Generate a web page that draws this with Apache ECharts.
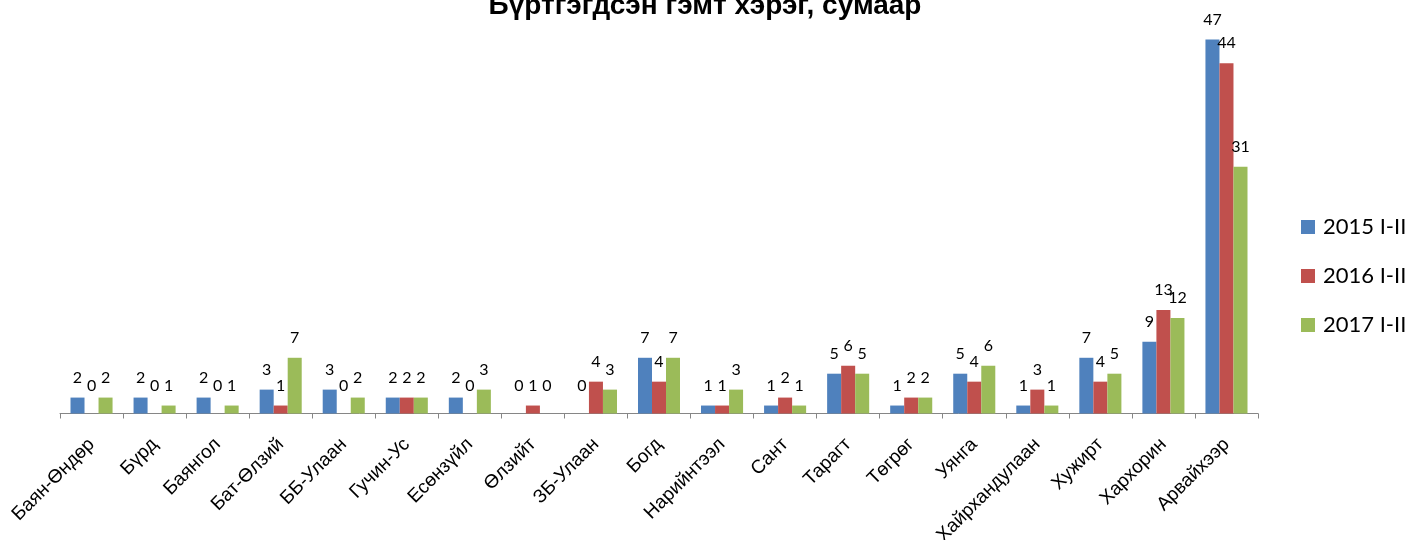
<!DOCTYPE html>
<html>
<head>
<meta charset="utf-8">
<script src="https://cdn.jsdelivr.net/npm/echarts@6/dist/echarts.min.js"></script>
<style>html,body{margin:0;padding:0;background:#fff}#c{width:1412px;height:540px}</style>
</head>
<body>
<div id="c"></div>
<script>
const titleText = 'Бүртгэгдсэн гэмт хэрэг, сумаар';
const categories = ['Баян-Өндөр','Бүрд','Баянгол','Бат-Өлзий','ББ-Улаан','Гучин-Ус','Есөнзүйл','Өлзийт','ЗБ-Улаан','Богд','Нарийнтээл','Сант','Тарагт','Төгрөг','Уянга','Хайрхандулаан','Хужирт','Хархорин','Арвайхээр'];
const seriesNames = ['2015 I-II','2016 I-II','2017 I-II'];
const values2015 = [2,2,2,3,3,2,2,0,0,7,1,1,5,1,5,1,7,9,47];
const values2016 = [0,0,0,1,0,2,0,1,4,4,1,2,6,2,4,3,4,13,44];
const values2017 = [2,1,1,7,2,2,3,0,3,7,3,1,5,2,6,1,5,12,31];
const colors = ['#4F81BD','#C0504D','#9BBB59'];

const chart = echarts.init(document.getElementById('c'), null, {renderer:'canvas'});
const mk = (name, vals, color) => ({
  name, type:'bar', data: vals.map(v => v === 0 ? {value:0, label:{distance:20}} : v),
  itemStyle:{color}, barGap:'0%', barCategoryGap:'33.3%',
  label:{show:true, position:'top', distance:12, color:'#000', fontFamily:'Lato', fontSize:16},
  emphasis:{disabled:true}
});
chart.setOption({
  animation:false,
  graphic:[{type:'text', x:705, y:-8, style:{text:titleText, fontFamily:'Liberation Sans', fontWeight:'bold', fontSize:28, fill:'#000', textAlign:'center'}}],
  legend:{orient:'vertical', left:1301, top:216, padding:0, itemWidth:14, itemHeight:14, itemGap:27,
    icon:'rect', data:seriesNames,
    textStyle:{fontFamily:'Lato', fontSize:22, lineHeight:22, color:'#000', padding:[0,0,0,3]}},
  grid:{left:60, right:154, top:15.5, bottom:126.5, containLabel:false, outerBoundsMode:'none'},
  xAxis:{type:'category', data:categories,
    axisLine:{lineStyle:{color:'#868686', width:1}},
    axisTick:{show:true, length:5, lineStyle:{color:'#868686'}, alignWithLabel:false},
    axisLabel:{rotate:45, interval:0, fontFamily:'Liberation Sans', fontSize:19, color:'#000', margin:28}},
  yAxis:{type:'value', min:0, max:50, interval:10, show:false, splitLine:{show:false}},
  series:[mk(seriesNames[0], values2015, colors[0]), mk(seriesNames[1], values2016, colors[1]), mk(seriesNames[2], values2017, colors[2])]
});
</script>
</body>
</html>
